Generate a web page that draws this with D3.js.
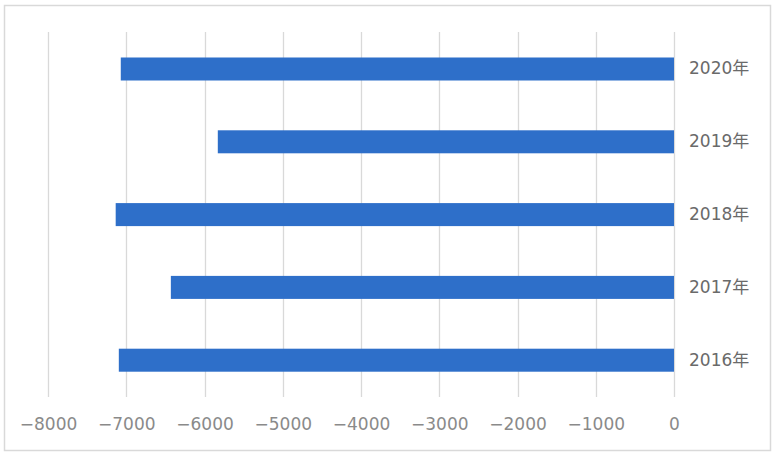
<!DOCTYPE html>
<html><head><meta charset="utf-8">
<script src="https://cdn.jsdelivr.net/npm/d3@7/dist/d3.min.js"></script>
<style>body{margin:0;background:#fff;}svg{display:block;}</style>
</head><body><svg id="c" width="780" height="462"></svg>
<script>
const categories = ["2020年","2019年","2018年","2017年","2016年"];
const values = [-7070, -5830, -7135, -6430, -7095];
const xTicks = [-8000,-7000,-6000,-5000,-4000,-3000,-2000,-1000,0];

const svg = d3.select("#c");
const font = "'DejaVu Sans','Noto Sans CJK SC',sans-serif";
svg.append("rect").attr("x",4.5).attr("y",5.5).attr("width",766).attr("height",445)
  .attr("fill","#fff").attr("stroke","#d9d9d9").attr("stroke-width",1.5);

const x = d3.scaleLinear().domain([-8000,0]).range([48,674]);
const y = d3.scaleBand().domain(categories).range([32.6,396.6]).paddingInner(0.684).paddingOuter(0.342);

svg.append("g").selectAll("line").data(xTicks).join("line")
  .attr("x1",d=>Math.round(x(d))+0.5).attr("x2",d=>Math.round(x(d))+0.5)
  .attr("y1",32).attr("y2",397).attr("stroke","#d9d9d9").attr("stroke-width",1.3);

svg.append("g").selectAll("rect").data(values).join("rect")
  .attr("x",d=>x(d)).attr("width",d=>x(0)-x(d))
  .attr("y",(d,i)=>y(categories[i])).attr("height",y.bandwidth())
  .attr("fill","#2e6fc9");

const xAxis = d3.axisBottom(x).tickValues(xTicks).tickSize(0).tickPadding(0)
  .tickFormat(d=> d<0 ? "\u2212"+Math.abs(d) : String(d));
const gx = svg.append("g").attr("transform","translate(0,418)").call(xAxis);
gx.select(".domain").remove();
gx.selectAll("text").attr("font-family",font).attr("font-size",17).attr("fill","#8a8a8a").attr("dy","0.71em");

const yAxis = d3.axisRight(y).tickSize(0).tickPadding(15);
const gy = svg.append("g").attr("transform",`translate(${x(0)},0)`).call(yAxis);
gy.select(".domain").remove();
gy.selectAll("text").attr("font-family",font).attr("font-size",17).attr("fill","#6a6a6a");
</script></body></html>
